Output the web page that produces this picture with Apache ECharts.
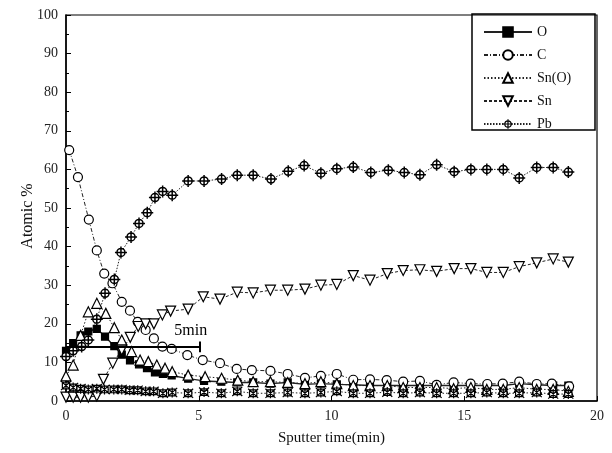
<!DOCTYPE html>
<html>
<head>
<meta charset="utf-8">
<script src="https://cdn.jsdelivr.net/npm/echarts@6/dist/echarts.min.js"></script>
<style>html,body{margin:0;padding:0;background:#fff;}#c{width:612px;height:453px;}</style>
</head>
<body>
<div id="c"></div>
<script>
// ---- data (Sputter time [min], Atomic %) ----
const seriesNames = ['O', 'C', 'Sn(O)', 'Sn', 'Pb'];
const xTicks = [0, 5, 10, 15, 20];
const yTicks = [0, 10, 20, 30, 40, 50, 60, 70, 80, 90, 100];
const yTitle = 'Atomic %';
const xTitle = 'Sputter time(min)';

const dataO = [[0,13],[0.27,15],[0.55,17],[0.84,18],[1.16,18.7],[1.47,16.7],[1.82,14.2],[2.1,12],[2.41,10.5],[2.75,9.5],[3.05,8.5],[3.35,7.4],[3.65,7],[3.98,6.6],[4.6,5.8],[5.2,5.2],[5.85,5],[6.45,4.8],[7.05,4.8],[7.7,4.5],[8.35,4.8],[9.0,4.3],[9.6,4.5],[10.2,4.3],[10.82,4.2],[11.45,4],[12.1,4],[12.7,4],[13.33,4],[13.96,4],[14.6,4],[15.25,4],[15.85,4],[16.47,4],[17.07,4.5],[17.73,4.2],[18.35,4],[18.92,4]];
const dataC = [[0.12,65],[0.45,58],[0.86,47],[1.16,39],[1.44,33],[1.75,30.5],[2.1,25.7],[2.41,23.4],[2.7,20.5],[3.0,18.4],[3.31,16.2],[3.63,14.1],[3.98,13.5],[4.57,11.9],[5.15,10.6],[5.8,9.8],[6.43,8.3],[7.0,8.0],[7.7,7.8],[8.35,7],[9.0,6],[9.6,6.5],[10.2,7],[10.82,5.5],[11.45,5.6],[12.08,5.4],[12.7,5],[13.33,5.2],[13.96,4.2],[14.6,4.8],[15.24,4.5],[15.87,4.4],[16.45,4.5],[17.07,5.0],[17.73,4.4],[18.3,4.5],[18.95,3.8]];
const dataSnO = [[0,6.5],[0.27,9.3],[0.55,17],[0.84,23.1],[1.16,25.3],[1.5,22.7],[1.82,19],[2.1,15.8],[2.47,12.8],[2.79,10.6],[3.1,10.2],[3.42,9.3],[3.73,8.5],[4.0,7.6],[4.6,6.7],[5.24,6.3],[5.86,5.9],[6.47,5.4],[7.05,5],[7.7,5],[8.35,4.8],[9.0,4.5],[9.6,5],[10.2,4.5],[10.82,4],[11.45,4],[12.1,4],[12.7,3.5],[13.33,3.5],[13.96,3.5],[14.6,3.2],[15.25,3.5],[15.85,3],[16.47,3],[17.07,3.5],[17.73,3],[18.35,3],[18.92,2.5]];
const dataSn = [[0,1],[0.27,1],[0.55,1],[0.84,1],[1.16,1.3],[1.41,5.6],[1.76,9.8],[2.1,13.2],[2.42,16.5],[2.72,19.3],[3.0,20],[3.31,20],[3.63,22.3],[3.94,23.3],[4.6,23.8],[5.17,27],[5.8,26.4],[6.45,28.2],[7.05,28],[7.7,28.7],[8.35,28.7],[9.0,29],[9.6,30],[10.2,30.2],[10.82,32.5],[11.45,31.3],[12.1,33],[12.7,33.8],[13.33,34],[13.96,33.6],[14.62,34.3],[15.25,34.3],[15.85,33.3],[16.47,33.3],[17.07,34.8],[17.73,35.8],[18.35,36.8],[18.92,36]];
const dataPb = [[0,11.5],[0.27,13],[0.59,14.1],[0.84,15.8],[1.16,21.2],[1.47,27.9],[1.82,31.5],[2.07,38.5],[2.45,42.5],[2.75,46],[3.06,48.8],[3.35,52.7],[3.64,54.3],[4.0,53.3],[4.6,57],[5.2,57],[5.86,57.5],[6.45,58.5],[7.05,58.5],[7.72,57.5],[8.37,59.5],[8.97,61],[9.6,59],[10.2,60.2],[10.82,60.6],[11.48,59.2],[12.14,59.8],[12.74,59.2],[13.33,58.6],[13.96,61.2],[14.62,59.4],[15.25,60],[15.85,60],[16.47,60],[17.07,57.8],[17.73,60.5],[18.35,60.5],[18.92,59.3]];
const dataX = [[0,4],[0.27,3.5],[0.55,3.2],[0.84,3],[1.16,3.2],[1.45,3],[1.8,3],[2.1,3],[2.4,2.8],[2.7,2.8],[3.0,2.5],[3.3,2.5],[3.65,2],[4.0,2.2],[4.6,2],[5.2,2.3],[5.85,2],[6.45,2.5],[7.05,2],[7.7,2],[8.35,2.2],[9.0,2],[9.6,2.2],[10.2,2.5],[10.82,2],[11.45,2],[12.1,2.3],[12.7,2],[13.33,2.2],[13.96,2],[14.6,2],[15.25,2],[15.85,2.2],[16.47,2],[17.07,2],[17.73,2.2],[18.35,1.8],[18.92,1.8]];
const barLine = [[0,14],[5.05,14]];
const barLabel = '5min';

const FONT = '"Liberation Serif","DejaVu Serif",serif';
const pbSymbol = 'path://M0,-6 L0,6 M-6,0 L6,0 M-4,0 A4,4 0 1,0 4,0 A4,4 0 1,0 -4,0 Z';
const xSymbol = 'path://M-4,-4 L4,-4 L4,4 L-4,4 Z M-5.5,-5.5 L5.5,5.5 M-5.5,5.5 L5.5,-5.5 M0,-6 L0,6';
const snSymbol = 'path://M-5,-4 L5,-4 L0,5 Z';

const chart = echarts.init(document.getElementById('c'));
function mk(name, data, symbol, size, lineType, fill, lw, bw) {
  return {
    name: name, type: 'line', data: data, symbol: symbol, symbolSize: size,
    showAllSymbol: true, animation: false,
    lineStyle: { color: '#222', width: lw || 1, type: lineType },
    itemStyle: { color: fill, borderColor: '#000', borderWidth: bw || 1.2 },
    z: 3
  };
}
const series = [
  mk('O', dataO, 'rect', 7, 'solid', '#000', 1.4),
  mk('C', dataC, 'circle', 9, [4, 2, 1, 2], '#fff'),
  mk('Sn(O)', dataSnO, 'triangle', 10, [1.5, 2], '#fff'),
  mk('Sn', dataSn, snSymbol, 10, [3, 2], '#fff'),
  mk('Pb', dataPb, pbSymbol, 12, [1.5, 1.5], '#fff', 1, 1.5),
  mk('other', dataX, xSymbol, 10, [1.5, 2], '#fff')
];
series[0].markLine = {
  silent: true, symbol: 'none', animation: false,
  lineStyle: { color: '#000', width: 2, type: 'solid' },
  label: { show: false },
  data: [
    [{ coord: barLine[0] }, { coord: barLine[1] }],
    [{ coord: [barLine[1][0], 12.6] }, { coord: [barLine[1][0], 15.4] }]
  ]
};
series[0].markPoint = {
  silent: true, symbol: 'circle', symbolSize: 0, animation: false,
  label: { show: true, formatter: barLabel, fontFamily: FONT, fontSize: 16, color: '#000', position: 'inside' },
  data: [{ coord: [4.7, 18.2] }]
};

chart.setOption({
  animation: false,
  backgroundColor: '#fff',
  grid: { left: 66, right: 15, top: 15, bottom: 52, show: true, borderColor: '#000', borderWidth: 1.2 },
  xAxis: {
    type: 'value', min: 0, max: 20, interval: 5,
    name: xTitle, nameLocation: 'middle', nameGap: 30,
    nameTextStyle: { fontFamily: FONT, fontSize: 15, color: '#111' },
    axisLine: { lineStyle: { color: '#000', width: 1.5 } },
    axisTick: { inside: true, length: 5, lineStyle: { color: '#000' } },
    minorTick: { show: false },
    axisLabel: { fontFamily: FONT, fontSize: 14, color: '#222', margin: 8,
      formatter: v => xTicks.indexOf(v) >= 0 ? String(v) : '' },
    splitLine: { show: false }
  },
  yAxis: {
    type: 'value', min: 0, max: 100, interval: 10,
    axisLine: { lineStyle: { color: '#000', width: 1.5 } },
    axisTick: { inside: true, length: 5, lineStyle: { color: '#000' } },
    minorTick: { show: true, splitNumber: 2, length: 3, lineStyle: { color: '#000' } },
    axisLabel: { fontFamily: FONT, fontSize: 14, color: '#222', margin: 8,
      formatter: v => yTicks.indexOf(v) >= 0 ? String(v) : '' },
    splitLine: { show: false }
  },
  legend: {
    data: [
      { name: 'O' }, { name: 'C' }, { name: 'Sn(O)' }, { name: 'Sn' },
      { name: 'Pb', itemStyle: { color: '#fff', borderColor: '#000', borderWidth: 1.2 } }
    ],
    orient: 'vertical', left: 478, top: 20,
    itemWidth: 48, itemHeight: 12, itemGap: 9,
    textStyle: { fontFamily: FONT, fontSize: 14, color: '#111' },
    selectedMode: false
  },
  graphic: [{
    type: 'rect', shape: { x: 472, y: 14, width: 123, height: 116 },
    style: { fill: 'none', stroke: '#000', lineWidth: 1.5 }, z: 10, silent: true
  }, {
    type: 'text', x: 28, y: 216, rotation: Math.PI / 2, silent: true,
    style: { text: yTitle, font: '16px ' + FONT, fill: '#111', align: 'center', verticalAlign: 'middle' }
  }],
  series: series
});
</script>
</body>
</html>
